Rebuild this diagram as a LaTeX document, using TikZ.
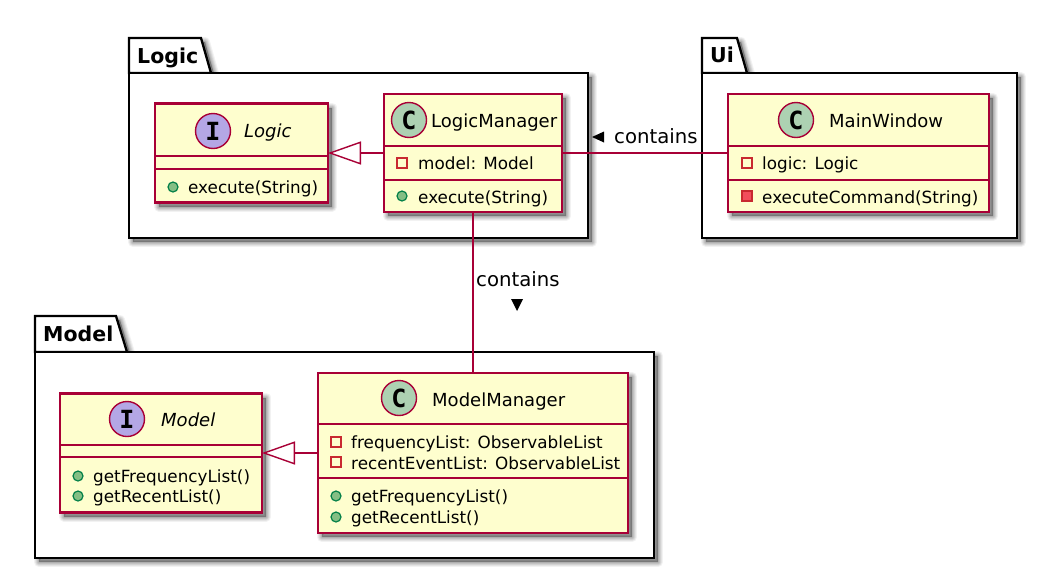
\documentclass[tikz,border=0pt]{standalone}
\usepackage{fontspec}
\setmainfont{DejaVu Sans}
\newfontfamily\iconfont{DejaVu Sans Mono Bold}
\usetikzlibrary{arrows.meta}
\definecolor{umlline}{HTML}{A80036}
\definecolor{umlfill}{HTML}{FEFECE}
\definecolor{iconC}{HTML}{ADD1B2}
\definecolor{iconI}{HTML}{B4A7E5}
\definecolor{privline}{HTML}{C82930}
\definecolor{privfill}{HTML}{F24D5C}
\definecolor{publine}{HTML}{038048}
\definecolor{pubfill}{HTML}{84BE84}
\tikzset{
  softshadow/.style={
    preaction={draw=black,fill=black,opacity=.05,line width=10pt,line join=round,transform canvas={shift={(4pt,-4pt)}}},
    preaction={draw=black,fill=black,opacity=.06,line width=8pt,line join=round,transform canvas={shift={(4pt,-4pt)}}},
    preaction={draw=black,fill=black,opacity=.07,line width=6pt,line join=round,transform canvas={shift={(4pt,-4pt)}}},
    preaction={draw=black,fill=black,opacity=.08,line width=4pt,line join=round,transform canvas={shift={(4pt,-4pt)}}},
    preaction={draw=black,fill=black,opacity=.09,line width=2pt,line join=round,transform canvas={shift={(4pt,-4pt)}}}},
  pkgbody/.style={draw=black,line width=2.3pt,fill=white,softshadow,inner sep=0pt,outer sep=0pt},
  pkgtab/.style={draw=black,line width=2.3pt,fill=white,softshadow,line join=miter},
  pkglabel/.style={anchor=base west,inner sep=0pt,font=\fontsize{20.5}{20.5}\selectfont\bfseries},
  classbox/.style={draw=umlline,line width=2.1pt,fill=umlfill,softshadow,inner sep=0pt,outer sep=0pt},
  sepline/.style={draw=umlline,line width=1.8pt},
  icon/.style={circle,draw=umlline,line width=1.4pt,minimum size=35pt,inner sep=0pt,font=\fontsize{25}{25}\iconfont},
  iconc/.style={icon,fill=iconC},
  iconi/.style={icon,fill=iconI},
  title/.style={anchor=base west,inner sep=0pt,font=\fontsize{18}{18}\selectfont},
  ititle/.style={anchor=base west,inner sep=0pt,font=\fontsize{18}{18}\selectfont\itshape},
  member/.style={anchor=base west,inner sep=0pt,font=\fontsize{16.8}{16.8}\selectfont},
  pubdot/.style={circle,draw=publine,fill=pubfill,line width=1.2pt,minimum size=10pt,inner sep=0pt},
  privopen/.style={rectangle,draw=privline,fill=umlfill,line width=1.3pt,minimum size=10pt,inner sep=0pt},
  privfull/.style={rectangle,draw=privline,fill=privfill,line width=1.3pt,minimum size=10pt,inner sep=0pt},
  conn/.style={draw=umlline,line width=1.4pt},
  inherit/.style={conn,{Triangle[open,length=33pt,width=23pt,fill=white]}-},
  linklabel/.style={anchor=base west,inner sep=0pt,font=\fontsize{19.7}{19.7}\selectfont},
  dirmark/.style={fill=black,draw=none},
}
\begin{document}
\begin{tikzpicture}[x=1pt,y=-1pt]
\useasboundingbox (0,0) rectangle (1049,576);
\fill[white] (0,0) rectangle (1049,576);

% packages
\path[pkgtab] (129,73) -- (129,38) -- (201,38) -- (211,73) -- cycle;
\node[pkgbody,minimum width=459pt,minimum height=165pt] (pLogic) at (358.5,155.5) {};
\node[pkglabel] (pLogicL) at (137,63) {Logic};

\path[pkgtab] (702,73) -- (702,38) -- (737,38) -- (747,73) -- cycle;
\node[pkgbody,minimum width=315pt,minimum height=165pt] (pUi) at (859.5,155.5) {};
\node[pkglabel] (pUiL) at (710,62) {Ui};

\path[pkgtab] (35,352) -- (35,316) -- (116,316) -- (127,352) -- cycle;
\node[pkgbody,minimum width=619pt,minimum height=206pt] (pModel) at (344.5,455) {};
\node[pkglabel] (pModelL) at (43,341) {Model};

% classes
\node[classbox,minimum width=173pt,minimum height=99pt] (logic) at (241.5,153) {};
\node[classbox,minimum width=178pt,minimum height=118pt] (lm) at (473,153) {};
\node[classbox,minimum width=261pt,minimum height=118pt] (mw) at (858.5,153) {};
\node[classbox,minimum width=202pt,minimum height=119pt] (model) at (161,453) {};
\node[classbox,minimum width=310pt,minimum height=160pt] (mm) at (473,453) {};

% compartment lines
\draw[sepline] (logic.west |- 0,156) -- (logic.east |- 0,156);
\draw[sepline] (logic.west |- 0,169) -- (logic.east |- 0,169);
\draw[sepline] (lm.west |- 0,146) -- (lm.east |- 0,146);
\draw[sepline] (lm.west |- 0,180) -- (lm.east |- 0,180);
\draw[sepline] (mw.west |- 0,146) -- (mw.east |- 0,146);
\draw[sepline] (mw.west |- 0,180) -- (mw.east |- 0,180);
\draw[sepline] (model.west |- 0,445) -- (model.east |- 0,445);
\draw[sepline] (model.west |- 0,457) -- (model.east |- 0,457);
\draw[sepline] (mm.west |- 0,424) -- (mm.east |- 0,424);
\draw[sepline] (mm.west |- 0,478) -- (mm.east |- 0,478);

% Logic
\node[iconi] (logicI) at (213,131) {I};
\node[ititle] (logicT) at (244,137) {Logic};
\node[pubdot] (logicD) at (173,187) {};
\node[member] (logicM) at (188,193) {execute(String)};

% LogicManager
\node[iconc] (lmI) at (409,120) {C};
\node[title] (lmT) at (431,127) {LogicManager};
\node[privopen] (lmS) at (402,163) {};
\node[member] (lmA) at (418,169) {model: Model};
\node[pubdot] (lmD) at (402,196) {};
\node[member] (lmM) at (418,203) {execute(String)};

% MainWindow
\node[iconc] (mwI) at (796,120) {C};
\node[title] (mwT) at (829,127) {MainWindow};
\node[privopen] (mwS) at (747,163) {};
\node[member] (mwA) at (762,169) {logic: Logic};
\node[privfull] (mwP) at (747,196) {};
\node[member] (mwM) at (762,203) {executeCommand(String)};

% Model
\node[iconi] (modelI) at (127,419) {I};
\node[ititle] (modelT) at (161,426) {Model};
\node[pubdot] (modelD1) at (78,476) {};
\node[member] (modelM1) at (93,482) {getFrequencyList()};
\node[pubdot] (modelD2) at (78,496) {};
\node[member] (modelM2) at (93,502) {getRecentList()};

% ModelManager
\node[iconc] (mmI) at (399,398) {C};
\node[title] (mmT) at (432,406) {ModelManager};
\node[privopen] (mmS1) at (336,442) {};
\node[member] (mmA1) at (351,448) {frequencyList: ObservableList};
\node[privopen] (mmS2) at (336,462) {};
\node[member] (mmA2) at (351,469) {recentEventList: ObservableList};
\node[pubdot] (mmD1) at (336,496) {};
\node[member] (mmM1) at (351,502) {getFrequencyList()};
\node[pubdot] (mmD2) at (336,517) {};
\node[member] (mmM2) at (351,523) {getRecentList()};

% connectors
\draw[inherit] (logic.east) -- (lm.west);
\draw[inherit] (model.east) -- (mm.west);
\draw[conn] (lm.east) -- (mw.west);
\draw[conn] (lm.south) -- (mm.north);

% link labels
\node[linklabel] (c1) at (614,143) {contains};
\fill[dirmark] (592,137) -- (604,131.5) -- (604,142.5) -- cycle;
\node[linklabel] (c2) at (476,286) {contains};
\fill[dirmark] (517,311) -- (511,299) -- (523,299) -- cycle;
\end{tikzpicture}
\end{document}
